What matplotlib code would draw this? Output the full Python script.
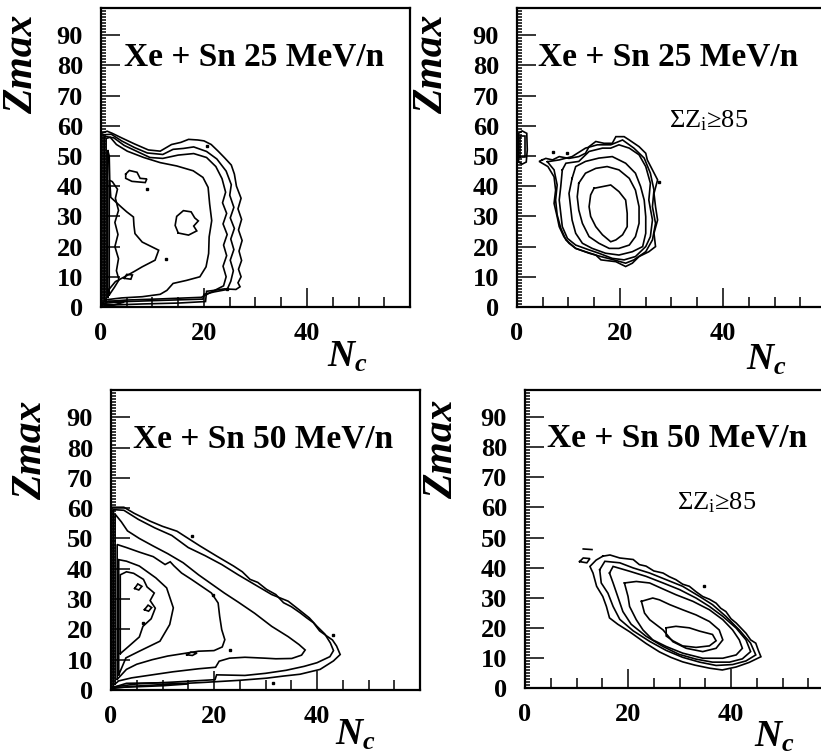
import numpy as np
import matplotlib
matplotlib.use("Agg")
import matplotlib.pyplot as plt
from matplotlib.ticker import MultipleLocator, FixedLocator

plt.rcParams['font.family'] = ['Liberation Serif', 'DejaVu Serif']
plt.rcParams['mathtext.fontset'] = 'custom'
plt.rcParams['mathtext.it'] = 'Liberation Serif:italic:bold'
plt.rcParams['mathtext.rm'] = 'Liberation Serif'

# ---- contour lines, (Nc, Zmax) pairs ----
# Xe + Sn 25 MeV/n, all events
tl_c1 = [(0.1, 0.3), (0.1, 57.5), (1.2, 58.2), (2.2, 57.5), (4.0, 56.0), (6.5, 54.0), (9.2, 52.0), (11.5, 51.6),
         (13.7, 53.8), (15.5, 54.5), (17.0, 55.5), (18.8, 55.3), (20.0, 55.0), (21.4, 53.8), (22.8, 51.5),
         (24.0, 49.4), (25.3, 47.0), (25.9, 44.0), (26.3, 40.0), (27.2, 36.0), (26.6, 32.5), (27.3, 29.0),
         (26.7, 25.5), (27.4, 22.0), (26.8, 18.5), (27.3, 15.4), (26.7, 12.5), (27.2, 10.0), (26.6, 8.0),
         (27.0, 6.7), (26.2, 5.8), (24.0, 6.0), (21.5, 5.4), (20.5, 5.2), (20.3, 1.8), (15.0, 1.3), (8.0, 1.0),
         (3.0, 0.7), (0.1, 0.3)]
tl_c2 = [(0.4, 1.2), (0.4, 57.0), (2.0, 57.2), (4.0, 55.0), (6.5, 52.8), (9.0, 51.0), (12.0, 50.5), (14.0, 52.2),
         (16.0, 52.5), (18.0, 53.0), (20.5, 51.5), (22.5, 49.0), (24.3, 45.0), (25.3, 40.5), (25.0, 37.0),
         (25.8, 33.0), (25.1, 29.5), (25.9, 26.0), (25.2, 22.5), (25.8, 19.0), (25.1, 15.5), (25.7, 12.0),
         (25.2, 8.5), (24.5, 5.8), (22.0, 5.0), (20.0, 4.2), (19.8, 2.6), (12.0, 2.2), (5.0, 1.8), (0.4, 1.2)]
tl_c3 = [(0.7, 1.8), (0.7, 56.5), (2.5, 56.0), (4.5, 53.5), (7.0, 51.5), (9.5, 49.5), (12.0, 49.2), (15.0, 50.3),
         (18.0, 50.8), (20.5, 49.5), (22.3, 46.5), (23.5, 42.5), (24.2, 38.0), (23.6, 34.5), (24.4, 31.0),
         (23.7, 27.5), (24.5, 24.0), (23.8, 20.5), (24.4, 17.0), (23.7, 13.5), (24.3, 10.0), (23.8, 7.0),
         (21.5, 5.0), (19.5, 3.2), (12.0, 2.7), (5.0, 2.3), (0.7, 1.8)]
tl_c4 = [(1.0, 2.4), (1.0, 55.8), (1.8, 56.2), (3.0, 53.8), (5.1, 51.6), (8.3, 49.5), (11.5, 47.8), (14.7, 46.7),
         (17.9, 45.1), (19.8, 42.9), (20.8, 39.6), (21.1, 34.1), (21.5, 28.6), (21.0, 23.2), (20.9, 17.7),
         (20.4, 13.3), (19.2, 10.0), (16.6, 8.8), (14.0, 7.8), (12.8, 5.5), (11.5, 4.2), (8.0, 3.4), (4.0, 3.0),
         (1.0, 2.4)]
tl_c5 = [(1.3, 3.2), (1.5, 5.7), (2.8, 8.4), (4.7, 10.1), (6.5, 11.8), (8.0, 13.3), (10.5, 15.5), (11.2, 18.8),
         (9.9, 19.9), (8.0, 21.5), (6.6, 24.3), (6.4, 27.0), (6.3, 29.8), (5.0, 31.5), (4.0, 33.0), (1.9, 36.3),
         (1.7, 42.0), (1.6, 50.0), (1.3, 52.0), (1.3, 3.2)]
tl_blob = [(15.0, 24.5), (14.4, 27.0), (14.7, 30.0), (16.0, 31.9), (17.5, 31.5), (18.2, 29.5), (18.9, 28.5),
           (18.0, 26.8), (18.6, 25.2), (17.0, 23.8), (15.0, 24.5)]
tl_island = [(4.8, 44.0), (5.5, 45.2), (7.0, 44.6), (7.6, 42.6), (8.9, 42.4), (8.6, 41.2), (6.0, 41.6),
             (4.8, 42.6), (4.8, 44.0)]
tl_c6 = [(1.6, 4.0), (2.6, 6.5), (3.5, 9.0), (3.0, 12.0), (3.4, 16.0), (2.7, 20.0), (3.3, 24.0), (2.7, 28.0),
         (3.4, 32.0), (2.8, 36.0), (3.2, 39.0), (2.2, 41.5), (1.6, 42.0), (1.6, 4.0)]
tl_loop = [(4.5, 9.5), (5.0, 10.8), (6.1, 10.6), (5.8, 9.2), (4.5, 9.5)]
tl_band = [(0.3, 0.8), (1.5, 1.9), (4.5, 1.6), (2.5, 0.7), (0.3, 0.8)]
tl_dots = [(8.9, 39.1), (12.6, 16.0), (20.5, 53.3), (24.4, 6.1)]

# Xe + Sn 25 MeV/n, sum Zi >= 85
tr_c1 = [(4.9, 48.7), (5.6, 49.2), (6.9, 48.7), (8.2, 49.8), (10.1, 49.2), (12.0, 49.8), (13.3, 50.9),
         (14.0, 53.1), (15.3, 54.8), (16.9, 54.2), (18.5, 54.2), (19.2, 56.4), (20.8, 56.4), (21.8, 55.3),
         (23.7, 53.1), (25.0, 50.9), (25.3, 48.7), (26.3, 45.4), (27.3, 42.1), (26.6, 37.6), (26.9, 33.2),
         (27.3, 28.8), (26.6, 24.4), (26.9, 20.0), (25.6, 18.3), (23.7, 16.7), (22.4, 14.5), (21.1, 13.4),
         (19.2, 15.0), (16.3, 15.6), (15.3, 17.2), (13.3, 18.3), (11.4, 19.4), (10.1, 21.1), (9.1, 23.3),
         (8.2, 26.6), (7.8, 29.9), (7.2, 34.3), (7.5, 38.7), (7.2, 43.1), (6.0, 46.5), (4.3, 48.2), (4.9, 48.7)]
tr_c2 = [(5.9, 48.1), (8.2, 48.7), (10.7, 49.8), (13.3, 52.6), (15.6, 53.7), (18.2, 53.7), (20.5, 55.3),
         (22.7, 52.6), (24.7, 49.3), (25.9, 44.3), (26.6, 38.7), (26.3, 33.2), (26.9, 27.7), (26.3, 22.2),
         (25.0, 18.3), (22.7, 15.6), (21.1, 14.5), (18.8, 15.6), (16.3, 16.7), (14.0, 17.8), (11.4, 19.4),
         (9.5, 22.2), (8.5, 26.1), (7.8, 30.5), (7.5, 35.4), (7.8, 40.4), (7.2, 45.4), (5.9, 48.1)]
tr_c3 = [(8.8, 45.4), (9.5, 47.6), (12.0, 48.2), (14.0, 51.5), (16.6, 52.6), (18.2, 52.6), (19.8, 53.7),
         (21.8, 52.6), (23.7, 50.4), (25.0, 46.5), (25.9, 41.0), (25.6, 35.4), (26.3, 28.8), (25.9, 23.3),
         (25.0, 20.0), (23.0, 16.7), (20.8, 15.6), (18.5, 16.1), (15.9, 17.8), (14.0, 18.9), (11.4, 20.5),
         (9.8, 22.7), (8.8, 26.6), (8.5, 31.0), (8.2, 35.4), (8.5, 39.9), (8.8, 45.4)]
tr_c4 = [(10.7, 42.6), (11.4, 46.5), (13.3, 48.2), (15.9, 49.3), (18.5, 49.8), (21.1, 47.6), (23.0, 44.3),
         (24.0, 39.9), (24.7, 35.4), (25.0, 29.9), (25.0, 24.4), (24.4, 20.0), (22.4, 18.3), (19.8, 17.2),
         (17.2, 17.8), (14.6, 19.4), (12.7, 21.1), (11.4, 24.4), (10.7, 28.8), (10.4, 33.2), (10.1, 37.6),
         (10.7, 42.6)]
tr_c5 = [(12.0, 41.0), (13.3, 44.3), (15.3, 45.9), (17.5, 46.5), (19.8, 45.4), (21.8, 42.6), (23.0, 38.7),
         (23.7, 33.2), (23.7, 27.7), (23.0, 23.3), (21.8, 20.5), (19.8, 19.4), (17.9, 19.4), (15.9, 21.1),
         (14.0, 23.3), (12.7, 27.7), (12.0, 32.1), (11.7, 36.5), (12.0, 41.0)]
tr_c6 = [(14.95, 39.3), (18.2, 40.4), (19.8, 38.2), (21.1, 35.4), (21.4, 31.0), (21.4, 26.6), (20.5, 23.9),
         (19.2, 22.2), (18.2, 21.6), (16.6, 23.9), (15.3, 26.6), (14.3, 30.0), (14.0, 33.2), (14.3, 37.1),
         (14.95, 39.3)]
tr_edge1 = [(0.3, 48.0), (0.3, 57.5), (1.0, 58.3), (1.9, 57.5), (2.0, 52.0), (1.8, 48.0), (1.0, 47.3), (0.3, 48.0)]
tr_edge2 = [(0.6, 49.5), (0.6, 56.5), (1.5, 56.5), (1.5, 49.5), (0.6, 49.5)]
tr_dots = [(6.9, 51.4), (9.8, 50.9), (27.6, 41.5)]

# Xe + Sn 50 MeV/n, all events
bl_c1 = [(0.2, 0.5), (0.2, 60.3), (2.5, 60.3), (4.5, 58.3), (7.6, 55.7), (10.0, 54.0), (12.8, 52.4), (15.0, 50.0),
         (17.3, 47.5), (20.5, 44.2), (23.8, 40.9), (25.5, 39.0), (27.0, 36.5), (28.5, 35.5), (30.2, 33.2),
         (32.0, 31.5), (33.5, 28.8), (35.0, 27.5), (36.7, 25.5), (38.0, 23.8), (39.3, 22.2), (40.5, 19.5),
         (41.9, 17.8), (43.0, 16.5), (43.8, 14.5), (44.5, 11.7), (43.2, 9.6), (40.6, 6.8), (36.7, 5.2),
         (33.5, 4.6), (30.2, 3.9), (25.0, 3.2), (18.0, 2.5), (10.0, 1.8), (4.0, 1.2), (0.2, 0.5)]
bl_c2 = [(0.5, 1.0), (0.5, 59.5), (2.5, 59.3), (5.3, 56.3), (8.5, 53.5), (11.8, 51.0), (15.0, 47.0), (18.3, 44.3),
         (21.5, 41.4), (24.7, 38.0), (27.9, 34.8), (31.2, 31.5), (34.4, 29.3), (36.5, 26.5), (38.5, 23.8),
         (40.0, 21.0), (41.5, 18.5), (42.6, 15.5), (43.2, 13.0), (42.5, 11.0), (40.0, 9.0), (37.5, 7.8),
         (34.0, 6.5), (30.0, 5.5), (26.0, 4.8), (20.5, 5.0), (20.2, 3.4), (12.0, 2.6), (5.0, 2.0), (0.5, 1.0)]
bl_c3 = [(0.8, 2.0), (0.8, 58.0), (2.0, 55.5), (3.2, 52.5), (5.5, 50.0), (8.2, 47.5), (11.0, 45.0), (14.0, 42.0),
         (17.0, 38.0), (19.5, 35.0), (22.0, 32.0), (24.7, 29.0), (27.9, 25.3), (31.2, 21.0), (34.4, 17.6),
         (36.5, 15.0), (37.7, 13.2), (37.0, 11.5), (35.1, 10.4), (32.0, 10.3), (29.9, 10.5), (26.0, 10.8),
         (23.0, 10.5), (21.0, 9.5), (20.3, 7.5), (17.0, 7.0), (12.0, 6.0), (8.0, 5.0), (4.0, 4.0), (1.5, 3.0),
         (0.8, 2.0)]
bl_c4 = [(1.2, 3.5), (1.2, 48.0), (3.0, 47.0), (5.5, 45.5), (8.2, 44.0), (10.5, 41.4), (11.5, 42.3), (12.2, 41.0),
         (13.7, 38.6), (15.7, 36.4), (17.6, 34.2), (19.5, 32.0), (20.8, 28.7), (21.1, 24.3), (21.5, 19.9),
         (22.1, 16.6), (21.6, 14.2), (20.0, 13.0), (17.0, 12.8), (14.0, 12.0), (11.0, 11.2), (8.0, 10.0),
         (5.0, 8.5), (3.0, 6.8), (1.2, 3.5)]
bl_c5 = [(1.5, 5.0), (2.9, 10.6), (5.5, 12.8), (9.5, 16.1), (11.4, 21.6), (12.1, 27.1), (10.8, 33.7), (8.7, 37.0),
         (5.5, 40.9), (3.0, 42.5), (1.5, 43.0), (1.5, 5.0)]
bl_c6 = [(1.8, 12.0), (3.5, 14.5), (5.5, 17.5), (6.2, 21.0), (7.8, 23.5), (8.6, 27.0), (7.6, 29.5), (8.4, 32.0),
         (7.0, 34.0), (6.3, 36.5), (4.4, 38.5), (3.0, 39.0), (1.8, 38.0), (1.8, 12.0)]
bl_loop1 = [(6.5, 26.5), (7.2, 28.0), (7.9, 27.2), (7.3, 26.0), (6.5, 26.5)]
bl_loop2 = [(4.6, 33.5), (5.2, 35.0), (6.0, 34.2), (5.4, 33.0), (4.6, 33.5)]
bl_loop3 = [(14.7, 11.6), (15.5, 12.5), (16.7, 12.2), (15.8, 11.4), (14.7, 11.6)]
bl_band = [(0.3, 0.8), (3.0, 2.2), (10.0, 2.4), (15.0, 2.0), (10.0, 1.4), (4.0, 1.0), (0.3, 0.8)]
bl_dots = [(15.7, 50.8), (6.2, 22.2), (23.1, 13.3), (19.9, 31.5), (43.2, 18.2), (31.5, 2.2)]

# Xe + Sn 50 MeV/n, sum Zi >= 85
br_c1 = [(15.1, 43.8), (16.5, 44.2), (18.4, 43.2), (21.0, 42.7), (22.2, 41.0), (23.5, 40.5), (25.0, 38.9),
         (26.8, 38.2), (28.0, 37.0), (29.3, 36.0), (30.6, 34.5), (31.9, 33.8), (33.2, 32.0), (34.5, 30.4),
         (35.8, 29.5), (37.1, 28.2), (38.0, 26.5), (39.0, 25.4), (40.0, 23.0), (41.0, 21.6), (42.0, 19.8),
         (42.9, 18.2), (43.8, 16.0), (44.8, 14.9), (45.3, 12.5), (45.8, 10.4), (43.5, 8.5), (41.0, 7.0),
         (38.3, 6.0), (35.8, 6.6), (33.0, 7.6), (30.6, 8.7), (28.3, 10.2), (26.1, 12.0), (23.5, 14.8),
         (20.3, 18.7), (18.0, 21.2), (16.4, 23.3), (15.8, 27.1), (15.1, 30.4), (13.9, 33.8), (13.2, 38.2),
         (12.6, 40.4), (13.8, 42.5), (15.1, 43.8)]
br_c2 = [(14.5, 39.3), (15.5, 42.1), (18.4, 41.6), (21.0, 39.9), (24.2, 38.2), (27.4, 36.0), (30.6, 33.8),
         (33.9, 30.4), (36.4, 27.7), (39.0, 23.8), (41.6, 19.3), (43.8, 14.9), (44.8, 11.0), (42.9, 9.0),
         (40.3, 7.8), (37.1, 7.5), (33.9, 8.6), (30.6, 10.2), (27.4, 12.5), (24.2, 15.5), (21.0, 19.0),
         (18.4, 22.8), (17.1, 27.1), (16.1, 31.5), (14.8, 34.9), (14.5, 39.3)]
br_c3 = [(16.4, 38.2), (17.1, 40.4), (20.3, 38.8), (23.5, 37.1), (26.8, 34.9), (30.0, 32.7), (33.2, 29.9),
         (35.8, 27.1), (38.4, 23.8), (41.0, 19.9), (42.9, 16.0), (43.8, 12.1), (42.2, 9.7), (39.7, 8.6),
         (36.4, 8.6), (33.2, 9.6), (29.9, 11.2), (26.8, 13.8), (23.5, 17.2), (20.6, 21.2), (19.0, 25.4),
         (18.0, 30.4), (17.1, 34.9), (16.4, 38.2)]
br_c4 = [(19.3, 34.9), (21.6, 35.4), (24.2, 34.9), (26.4, 33.2), (29.3, 31.0), (32.6, 28.8), (35.8, 26.0),
         (38.4, 22.7), (40.3, 19.3), (41.6, 16.0), (42.2, 13.2), (41.0, 11.0), (38.4, 9.9), (34.5, 9.9),
         (30.6, 11.6), (27.4, 13.8), (24.8, 16.0), (22.9, 19.3), (21.6, 22.7), (20.3, 27.1), (20.0, 30.4),
         (19.3, 34.9)]
br_c5 = [(22.6, 28.8), (24.8, 29.9), (26.1, 29.3), (28.1, 27.7), (30.6, 26.0), (33.2, 24.3), (35.8, 22.1),
         (37.7, 19.3), (38.4, 16.0), (37.1, 13.2), (34.5, 12.1), (31.3, 13.2), (28.7, 15.4), (26.8, 19.3),
         (25.5, 21.0), (24.2, 22.7), (23.2, 24.9), (22.6, 28.8)]
br_c6 = [(27.4, 20.0), (29.3, 20.5), (31.9, 20.0), (33.9, 18.9), (36.4, 17.8), (37.1, 15.7), (35.8, 14.0),
         (33.2, 13.5), (30.6, 14.0), (28.7, 15.7), (27.4, 17.3), (27.4, 20.0)]
br_loop = [(10.6, 42.0), (11.3, 43.2), (12.6, 43.0), (12.0, 41.6), (10.6, 42.0)]
br_dash = [(11.3, 46.2), (13.0, 46.0)]
br_dots = [(34.8, 33.8)]

panels = [
    ("Xe + Sn 25 MeV/n", False, [tl_c1, tl_c2, tl_c3, tl_c4, tl_c5, tl_blob, tl_island, tl_c6, tl_loop, tl_band], tl_dots),
    ("Xe + Sn 25 MeV/n", True, [tr_c1, tr_c2, tr_c3, tr_c4, tr_c5, tr_c6, tr_edge1, tr_edge2], tr_dots),
    ("Xe + Sn 50 MeV/n", False, [bl_c1, bl_c2, bl_c3, bl_c4, bl_c5, bl_c6, bl_loop1, bl_loop2, bl_loop3, bl_band], bl_dots),
    ("Xe + Sn 50 MeV/n", True, [br_c1, br_c2, br_c3, br_c4, br_c5, br_c6, br_loop, br_dash], br_dots),
]

# axes boxes in figure fraction
boxes = [[0.1230, 0.5934, 0.3764, 0.3960],
         [0.6297, 0.5934, 0.3764, 0.3960],
         [0.1352, 0.0861, 0.3764, 0.3974],
         [0.6395, 0.0887, 0.3764, 0.3947]]
zlab_pos = [(-0.256, 0.813), (-0.275, 0.813), (-0.259, 0.80), (-0.268, 0.80)]
nlab_pos = [(0.796, -0.17), (0.806, -0.177), (0.79, -0.15), (0.806, -0.164)]
title_x = [0.074, 0.068, 0.071, 0.071]

fig = plt.figure(figsize=(8.21, 7.55), dpi=100)

for i, (title, cut, lines, dots) in enumerate(panels):
    ax = fig.add_axes(boxes[i])
    for c in lines:
        arr = np.array(c)
        ax.plot(arr[:, 0], arr[:, 1], color='black', lw=1.2, solid_joinstyle='miter')
    d = np.array(dots)
    ax.plot(d[:, 0], d[:, 1], 's', color='black', ms=2)
    ax.set_xlim(0, 60)
    ax.set_ylim(0, 99)
    ax.xaxis.set_major_locator(FixedLocator([0, 20, 40]))
    ax.xaxis.set_minor_locator(MultipleLocator(5))
    ax.yaxis.set_major_locator(FixedLocator(np.arange(0, 91, 10)))
    ax.yaxis.set_minor_locator(MultipleLocator(1))
    ax.tick_params(which='both', direction='in', top=False, right=False, width=1.1)
    ax.tick_params(axis='x', which='major', length=14, pad=11, labelsize=19)
    ax.tick_params(axis='x', which='minor', length=7)
    ax.tick_params(axis='y', which='major', length=13.5, pad=13, labelsize=19)
    ax.tick_params(axis='y', which='minor', length=3.5)
    for lab in ax.get_xticklabels() + ax.get_yticklabels():
        lab.set_fontweight('bold')
    for s in ax.spines.values():
        s.set_linewidth(1.6)
    ax.text(title_x[i], 0.809, title, transform=ax.transAxes, fontsize=24, fontweight='bold', va='baseline')
    if cut:
        ax.text(0.492, 0.60, r'ΣZ$_{\mathregular{i}}$≥85', transform=ax.transAxes, fontsize=19, va='baseline')
    ax.text(zlab_pos[i][0], zlab_pos[i][1], 'Zmax', transform=ax.transAxes, rotation=90, ha='center',
            va='center', fontsize=30, fontweight='bold', fontstyle='italic')
    ax.text(nlab_pos[i][0], nlab_pos[i][1], r'$N_c$', transform=ax.transAxes, ha='center', va='center',
            fontsize=27)

fig.savefig("out.png", dpi=100)
